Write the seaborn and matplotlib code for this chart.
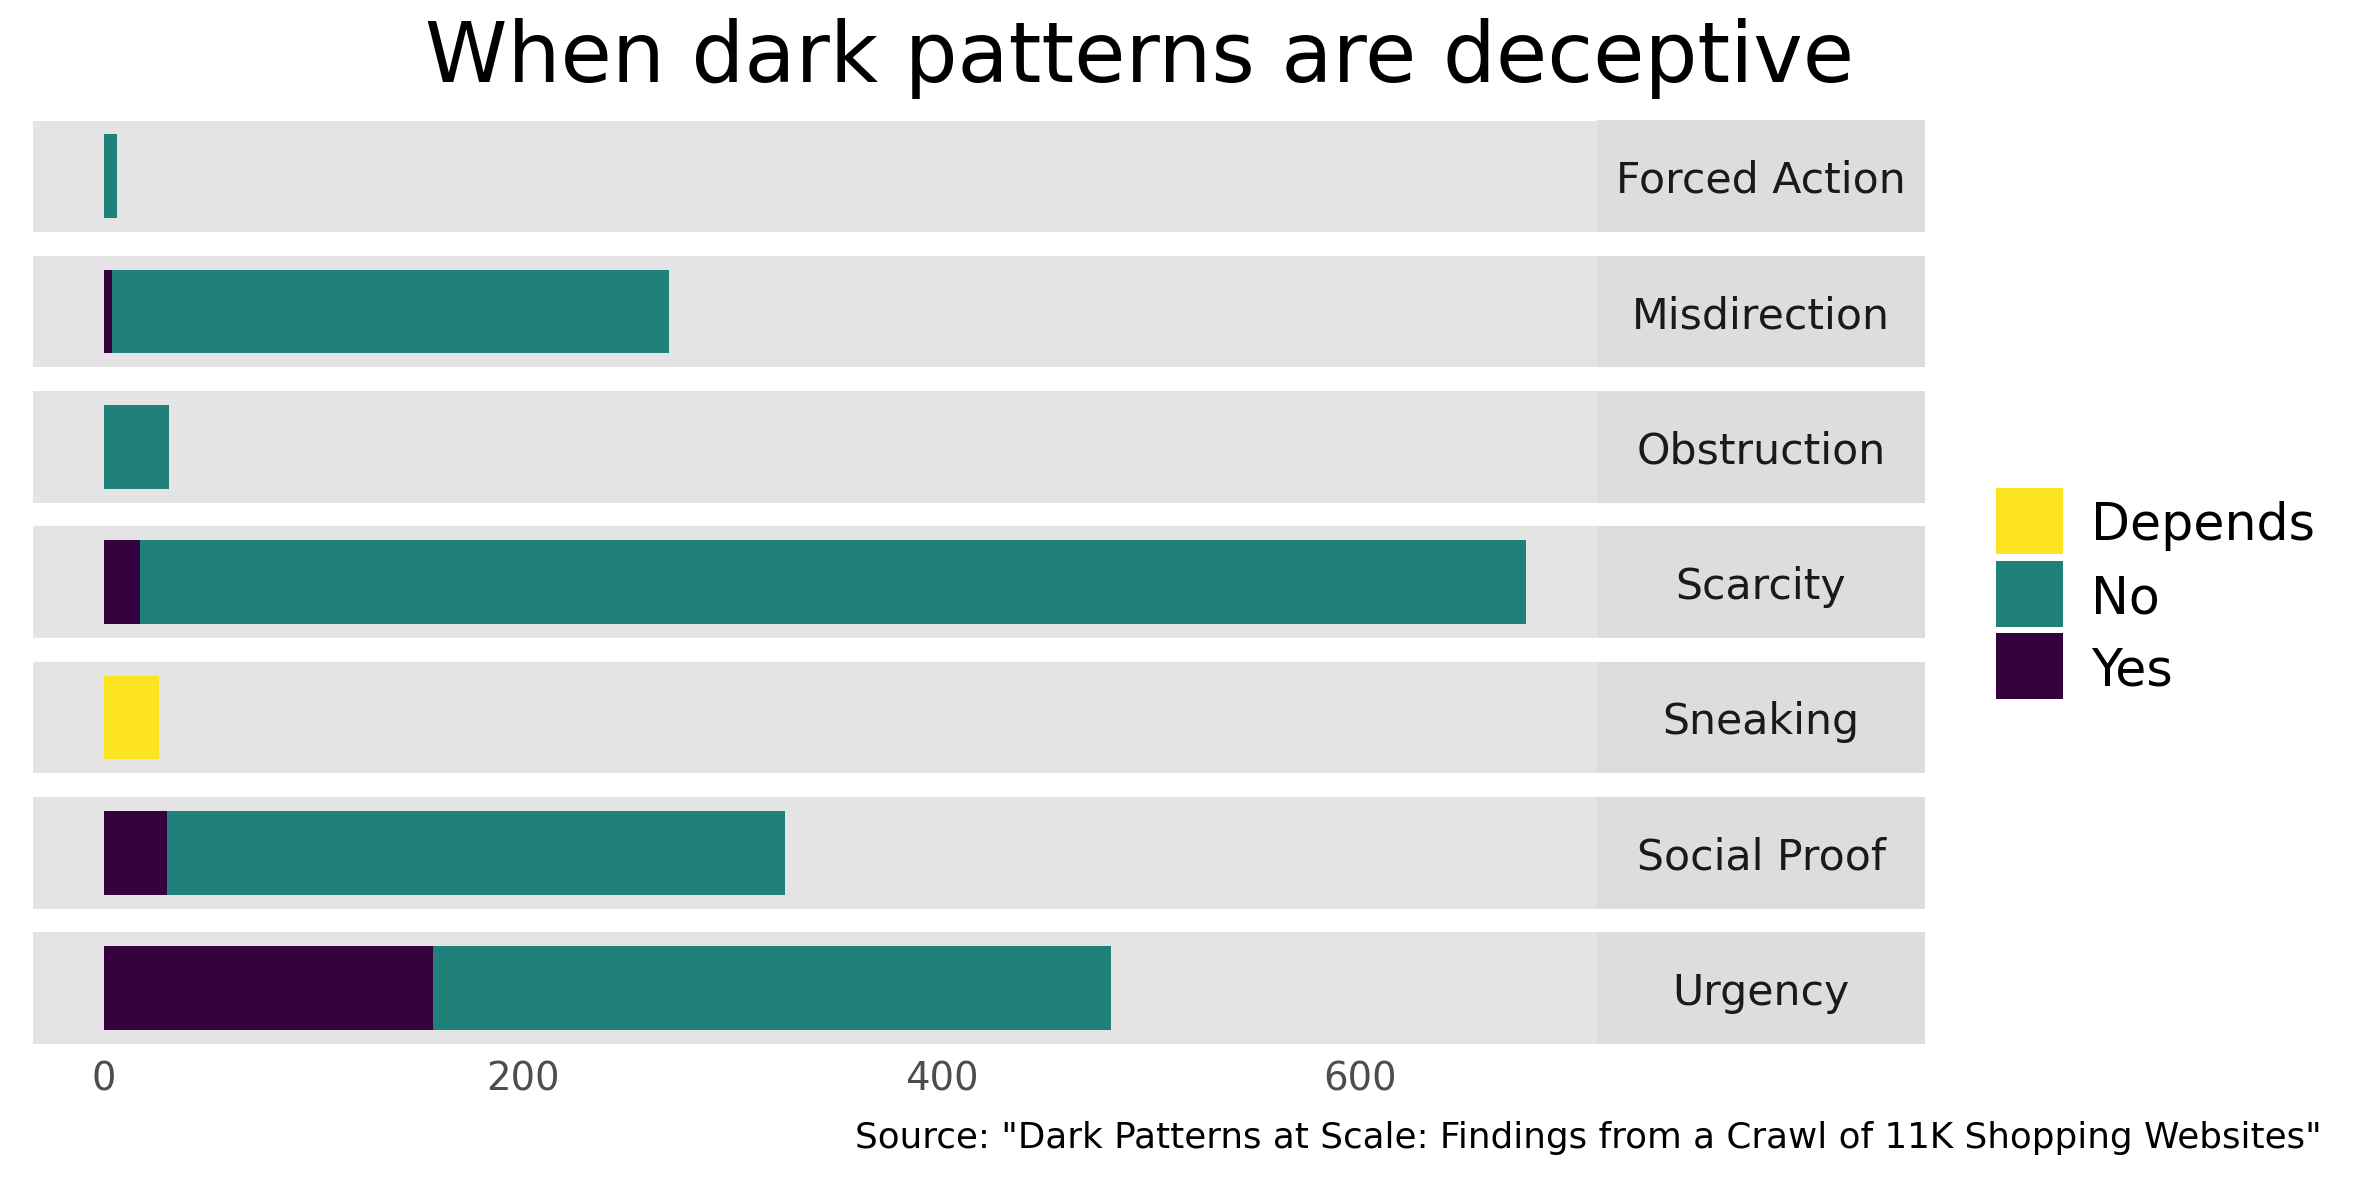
import matplotlib
matplotlib.use("Agg")
import matplotlib.pyplot as plt
from matplotlib.patches import Rectangle
import seaborn as sns

# Dark-pattern categories and how many instances were judged deceptive
categories = ["Forced Action", "Misdirection", "Obstruction", "Scarcity",
              "Sneaking", "Social Proof", "Urgency"]
yes_counts = [0, 4, 0, 17, 0, 30, 157]
no_counts = [6, 266, 31, 662, 0, 295, 324]
depends_counts = [0, 0, 0, 0, 26, 0, 0]

legend_levels = ["Depends", "No", "Yes"]
level_colors = {"Depends": "#FDE421", "No": "#20807A", "Yes": "#36013F"}
x_ticks = [0, 200, 400, 600]

title = "When dark patterns are deceptive"
caption = 'Source: "Dark Patterns at Scale: Findings from a Crawl of 11K Shopping Websites"'

sns.set_style("white")
plt.rcParams["font.family"] = ["DejaVu Sans"]

W, H = 2362, 1181
fig = plt.figure(figsize=(W / 100, H / 100), dpi=100)
fig.patch.set_facecolor("white")
renderer = fig.canvas.get_renderer()


def fx(px):
    return px / W


def fy(px):
    return 1 - px / H


def size_for_width(text, width_px, family="DejaVu Sans"):
    """Font size (pt) at which `text` renders `width_px` pixels wide."""
    probe = fig.text(0, 0, text, fontsize=20, family=family)
    w = probe.get_window_extent(renderer).width
    probe.remove()
    return 20 * width_px / w


panel_left, panel_right, strip_right = 33, 1597, 1925
panel_top0, panel_h, panel_step = 120.5, 111.5, 135.3
panel_color = "#E4E4E4"
strip_color = "#DDDDDD"

strip_size = size_for_width("Forced Action", 289)
tick_size = size_for_width("200", 74)
legend_size = size_for_width("Depends", 224)
title_size = size_for_width(title, 1427)
caption_size = size_for_width(caption, 1464)

totals = [y + n + d for y, n, d in zip(yes_counts, no_counts, depends_counts)]
xmax = max(totals)
xlim = (-0.05 * xmax, 1.05 * xmax)

# stacking order: Yes next to zero, then No, then Depends
stack = [("Yes", yes_counts), ("No", no_counts), ("Depends", depends_counts)]

for i, cat in enumerate(categories):
    top = panel_top0 + i * panel_step
    ax = fig.add_axes([fx(panel_left), fy(top + panel_h),
                       fx(panel_right - panel_left), panel_h / H])
    ax.set_facecolor(panel_color)
    start = 0
    for level, values in stack:
        v = values[i]
        if v > 0:
            sns.barplot(x=[v], y=[cat], orient="h", color=level_colors[level],
                        saturation=1, width=0.9, left=start, linewidth=0,
                        ax=ax)
        start += v
    ax.set_xlim(*xlim)
    ax.set_ylim(0.6, -0.6)
    ax.set_yticks([])
    ax.set_xlabel("")
    ax.set_ylabel("")
    for s in ax.spines.values():
        s.set_visible(False)
    if i == len(categories) - 1:
        ax.set_xticks(x_ticks)
        ax.set_xticklabels([str(t) for t in x_ticks])
        ax.tick_params(axis="x", length=8, width=1.6, color="#333333",
                       labelcolor="#4D4D4D", labelsize=tick_size, pad=4)
    else:
        ax.set_xticks([])

    # facet strip on the right
    fig.add_artist(Rectangle((fx(panel_right), fy(top + panel_h)),
                             fx(strip_right - panel_right), panel_h / H,
                             transform=fig.transFigure, facecolor=strip_color,
                             edgecolor="none"))
    fig.text(fx((panel_right + strip_right) / 2), fy(top + panel_h / 2), cat,
             ha="center", va="center_baseline", fontsize=strip_size,
             color="#1A1A1A")

# legend
key_left, key_w = 1996, 67
key_tops = [488, 560.5, 633]
key_h = 66
for lvl, kt in zip(legend_levels, key_tops):
    fig.add_artist(Rectangle((fx(key_left), fy(kt + key_h)), fx(key_w), key_h / H,
                             transform=fig.transFigure,
                             facecolor=level_colors[lvl], edgecolor="none"))
    fig.text(fx(2091), fy(kt + key_h / 2), lvl, ha="left",
             va="center_baseline", fontsize=legend_size, color="black")

fig.text(fx(1139.5), fy(82), title, ha="center", va="baseline",
         fontsize=title_size, color="black")
fig.text(fx(2322), fy(1148), caption, ha="right", va="baseline",
         fontsize=caption_size, color="black")

fig.savefig("out.png", dpi=100, facecolor="white")
